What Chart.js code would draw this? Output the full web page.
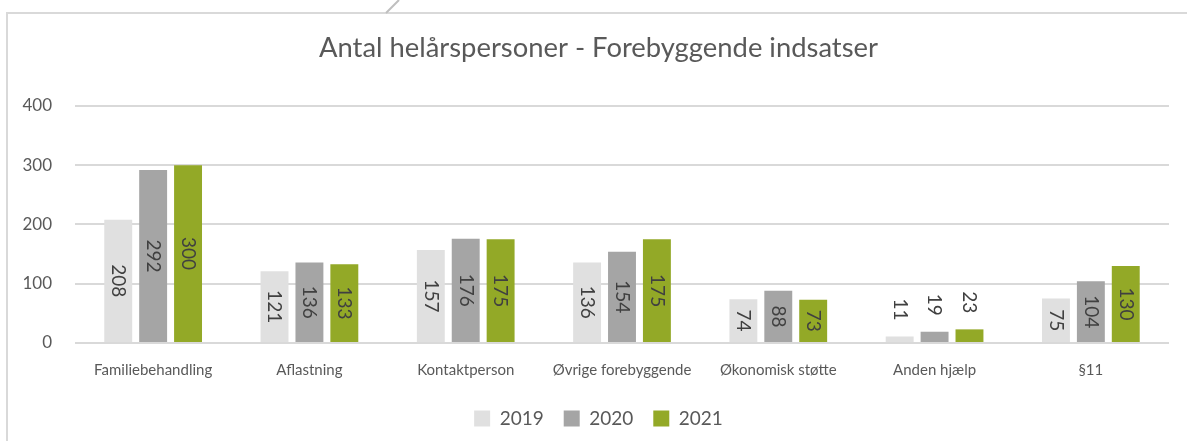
<!DOCTYPE html>
<html>
<head>
<meta charset="utf-8">
<script src="https://cdn.jsdelivr.net/npm/chart.js@4"></script>
<style>
  html, body { margin:0; padding:0; background:#fff; overflow:hidden; }
  #frame { position:absolute; left:6px; top:12px; width:1300px; height:500px; border:2px solid #d9d9d9; box-sizing:border-box; }
  #wrap { position:absolute; left:0; top:0; width:1187px; height:438px; }
</style>
</head>
<body>
<div id="frame"></div>
<div id="wrap"><canvas id="c"></canvas></div>
<script>
/* Antal helårspersoner - Forebyggende indsatser */
const categories = ['Familiebehandling', 'Aflastning', 'Kontaktperson', 'Øvrige forebyggende', 'Økonomisk støtte', 'Anden hjælp', '§11'];
const years = ['2019', '2020', '2021'];
const v2019 = [208, 121, 157, 136, 74, 11, 75];
const v2020 = [292, 136, 176, 154, 88, 19, 104];
const v2021 = [300, 133, 175, 175, 73, 23, 130];
const yTicks = [0, 100, 200, 300, 400];

const FONT = 'Lato, "Open Sans", sans-serif';
const TXT = '#595959';
const colors = { c2019: '#e0e0e0', c2020: '#a5a5a5', c2021: '#93a927' };

// rotated value labels, centred in the bar or above it when it does not fit
const barLabels = {
  id: 'barLabels',
  afterLayout(chart) {
    // let the y tick labels use the left padding instead of being clipped
    chart.scales.y.left = 0;
  },
  afterDatasetsDraw(chart) {
    const ctx = chart.ctx;
    ctx.save();
    ctx.font = '19px ' + FONT;
    ctx.fillStyle = '#404040';
    chart.data.datasets.forEach((ds, di) => {
      chart.getDatasetMeta(di).data.forEach((bar, i) => {
        const txt = String(ds.data[i]);
        const w = ctx.measureText(txt).width;
        const h = bar.base - bar.y;
        let cy = bar.y + h / 2;
        if (w + 6 > h) cy = bar.y - 16 - w / 2;
        ctx.save();
        ctx.translate(bar.x, cy);
        ctx.rotate(Math.PI / 2);
        ctx.textAlign = 'center';
        ctx.textBaseline = 'middle';
        ctx.fillText(txt, 0, 0);
        ctx.restore();
      });
    });
    ctx.restore();
  },
  afterDraw(chart) {
    const ctx = chart.ctx;
    ctx.save();
    ctx.strokeStyle = '#bfbfbf';
    ctx.lineWidth = 2;
    ctx.beginPath();
    ctx.moveTo(386, 13);
    ctx.lineTo(399, 0);
    ctx.stroke();
    ctx.restore();
  }
};

new Chart(document.getElementById('c'), {
  type: 'bar',
  data: {
    labels: categories,
    datasets: [
      { label: years[0], data: v2019, backgroundColor: colors.c2019 },
      { label: years[1], data: v2020, backgroundColor: colors.c2020 },
      { label: years[2], data: v2021, backgroundColor: colors.c2021 }
    ]
  },
  options: {
    responsive: true, maintainAspectRatio: false, animation: false,
    layout: { padding: { left: 28, right: 18, top: 32, bottom: 0 } },
    datasets: { bar: { categoryPercentage: 0.67, barPercentage: 0.8 } },
    plugins: {
      title: { display: true, text: 'Antal helårspersoner - Forebyggende indsatser', color: TXT,
        font: { family: FONT, size: 27.4, weight: 'normal' }, padding: { top: 0, bottom: 41 } },
      legend: { position: 'bottom',
        labels: { color: TXT, font: { family: FONT, size: 19 }, boxWidth: 16, boxHeight: 16, padding: 20 } },
      tooltip: { enabled: false }
    },
    scales: {
      x: {
        grid: { display: false }, border: { display: false },
        ticks: { color: TXT, font: { family: FONT, size: 15 }, padding: 10, maxRotation: 0, autoSkip: false }
      },
      y: {
        min: 0, max: 400,
        afterFit: s => { s.width = 47; },
        afterBuildTicks: s => { s.ticks = yTicks.map(v => ({ value: v })); },
        grid: { color: '#d9d9d9', lineWidth: 2, drawTicks: false },
        border: { display: false },
        ticks: { color: TXT, font: { family: FONT, size: 17 }, padding: 23 }
      }
    }
  },
  plugins: [barLabels]
});
</script>
</body>
</html>
